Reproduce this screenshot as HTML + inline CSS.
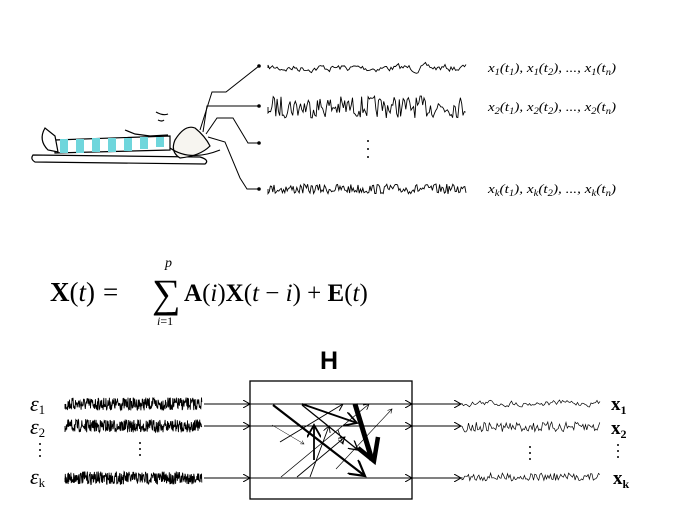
<!DOCTYPE html>
<html><head><meta charset="utf-8"><style>
html,body{margin:0;padding:0;background:#fff;}
svg{display:block;}
.lbl{font-family:"Liberation Serif",serif;font-style:italic;font-size:13px;}
</style></head><body>
<svg id="s" width="673" height="528" viewBox="0 0 673 528" xmlns="http://www.w3.org/2000/svg">
<defs>
<marker id="ah" markerWidth="8" markerHeight="8" refX="7" refY="4" orient="auto" markerUnits="userSpaceOnUse"><path d="M0,0 L7,4 L0,8" fill="none" stroke="#000" stroke-width="1"/></marker>
<marker id="ah2" markerWidth="8" markerHeight="8" refX="7" refY="4" orient="auto"><path d="M0,0 L7,4 L0,8" fill="none" stroke="#000" stroke-width="1"/></marker>
</defs>
<g stroke="#000" stroke-width="1.2" fill="none">
<path d="M33,155 L200,157 Q210,160 205,164 L35,162 Q30,159 33,155Z" fill="#fff"/>
<path d="M55,140 L170,136 L170,150 L55,153 Z" fill="#fff"/>
<path d="M45,128 Q38,140 48,150 L58,152 L55,136 Z" fill="#fff"/>
<path d="M175,140 Q185,124 195,128 Q205,136 210,146 Q200,156 180,158 Q170,152 175,140Z" fill="#f7f5f0"/>
<path d="M170,148 Q190,162 220,150"/>
<path d="M125,130 L135,134 L150,136 L168,135"/>
<path d="M156,112 Q163,116 168,114 M158,120 Q162,122 164,120"/>
</g>
<g fill="#6fd6dc">
<rect x="60" y="139" width="8" height="14"/><rect x="76" y="139" width="8" height="14"/><rect x="92" y="138" width="8" height="14"/><rect x="108" y="138" width="8" height="14"/><rect x="124" y="138" width="8" height="13"/><rect x="140" y="137" width="8" height="12"/><rect x="156" y="137" width="8" height="10"/>
</g>
<g stroke="#000" stroke-width="1" fill="none">
<path d="M200,130 L212,92 L226,92 L259,66"/>
<path d="M203,132 L207,106 L259,106"/>
<path d="M206,134 L217,118 L233,118 L248,143 L259,143"/>
<path d="M208,137 L225,142 L240,178 L247,189 L259,189"/>
</g>
<g fill="#000"><circle cx="259" cy="66" r="1.8"/><circle cx="259" cy="106" r="1.8"/><circle cx="259" cy="143" r="1.8"/><circle cx="259" cy="189" r="1.8"/>
<circle cx="368" cy="141" r="1"/><circle cx="368" cy="149" r="1"/><circle cx="368" cy="157" r="1"/></g>
<g id="waves" stroke="#000" fill="none" stroke-width="0.9"></g>
<text class="lbl" x="488" y="72" textLength="128" lengthAdjust="spacingAndGlyphs">x<tspan font-size="9" dy="3">1</tspan><tspan dy="-3">(t</tspan><tspan font-size="9" dy="3">1</tspan><tspan dy="-3">), x</tspan><tspan font-size="9" dy="3">1</tspan><tspan dy="-3">(t</tspan><tspan font-size="9" dy="3">2</tspan><tspan dy="-3">), ..., x</tspan><tspan font-size="9" dy="3">1</tspan><tspan dy="-3">(t</tspan><tspan font-size="9" dy="3">n</tspan><tspan dy="-3">)</tspan></text>
<text class="lbl" x="488" y="111" textLength="128" lengthAdjust="spacingAndGlyphs">x<tspan font-size="9" dy="3">2</tspan><tspan dy="-3">(t</tspan><tspan font-size="9" dy="3">1</tspan><tspan dy="-3">), x</tspan><tspan font-size="9" dy="3">2</tspan><tspan dy="-3">(t</tspan><tspan font-size="9" dy="3">2</tspan><tspan dy="-3">), ..., x</tspan><tspan font-size="9" dy="3">2</tspan><tspan dy="-3">(t</tspan><tspan font-size="9" dy="3">n</tspan><tspan dy="-3">)</tspan></text>
<text class="lbl" x="488" y="193" textLength="128" lengthAdjust="spacingAndGlyphs">x<tspan font-size="9" dy="3">k</tspan><tspan dy="-3">(t</tspan><tspan font-size="9" dy="3">1</tspan><tspan dy="-3">), x</tspan><tspan font-size="9" dy="3">k</tspan><tspan dy="-3">(t</tspan><tspan font-size="9" dy="3">2</tspan><tspan dy="-3">), ..., x</tspan><tspan font-size="9" dy="3">k</tspan><tspan dy="-3">(t</tspan><tspan font-size="9" dy="3">n</tspan><tspan dy="-3">)</tspan></text>
<g font-family="Liberation Serif,serif" font-size="27">
<text x="50" y="301"><tspan font-weight="bold">X</tspan>(<tspan font-style="italic">t</tspan>)<tspan dx="8">=</tspan></text>
<text x="152" y="307" font-size="40">∑</text>
<text x="165" y="267" font-size="14" font-style="italic">p</text>
<text x="157" y="325" font-size="12" font-style="italic">i<tspan font-style="normal">=1</tspan></text>
<text x="184" y="301" font-size="25"><tspan font-weight="bold">A</tspan>(<tspan font-style="italic">i</tspan>)<tspan font-weight="bold">X</tspan>(<tspan font-style="italic">t</tspan> − <tspan font-style="italic">i</tspan>) + <tspan font-weight="bold">E</tspan>(<tspan font-style="italic">t</tspan>)</text>
</g>
<text x="320" y="369" font-family="Liberation Sans,sans-serif" font-weight="bold" font-size="25">H</text>
<rect x="250" y="381" width="162" height="118" fill="none" stroke="#000" stroke-width="1.3"/>
<g font-family="Liberation Serif,serif" font-size="22" font-style="italic">
<text x="30" y="411">ε<tspan font-size="13" font-style="normal" dy="3">1</tspan></text>
<text x="30" y="434">ε<tspan font-size="13" font-style="normal" dy="3">2</tspan></text>
<text x="30" y="484">ε<tspan font-size="13" font-style="normal" dy="3">k</tspan></text>
</g>
<g font-family="Liberation Serif,serif" font-size="19" font-weight="bold">
<text x="611" y="410">x<tspan font-size="12" dy="4">1</tspan></text>
<text x="611" y="434">x<tspan font-size="12" dy="4">2</tspan></text>
<text x="613" y="484">x<tspan font-size="12" dy="4">k</tspan></text>
</g>
<g fill="#000"><circle cx="40" cy="444" r="1"/><circle cx="40" cy="450" r="1"/><circle cx="40" cy="456" r="1"/>
<circle cx="140" cy="443" r="1"/><circle cx="140" cy="449" r="1"/><circle cx="140" cy="455" r="1"/>
<circle cx="530" cy="447" r="1"/><circle cx="530" cy="453" r="1"/><circle cx="530" cy="459" r="1"/>
<circle cx="618" cy="445" r="1"/><circle cx="618" cy="451" r="1"/><circle cx="618" cy="457" r="1"/></g>
<g stroke="#000" stroke-width="1.1" fill="none" marker-end="url(#ah)">
<path d="M204,404 L250,404"/><path d="M204,426 L250,426"/><path d="M204,478 L250,478"/>
<path d="M250,404 L412,404"/><path d="M250,426 L412,426"/><path d="M250,478 L412,478"/>
<path d="M412,404 L461,404"/><path d="M412,426 L461,426"/><path d="M412,478 L461,478"/>
</g>
<g stroke="#000" fill="none" marker-end="url(#ah2)">
<path d="M273,405 L365,476" stroke-width="2.2"/>
<path d="M302,405 L358,450" stroke-width="1.3"/>
<path d="M302,404 L357,423" stroke-width="1.8"/>
<path d="M280,442 L343,404" stroke-width="1"/>
<path d="M281,477 L369,404" stroke-width="0.8"/>
<path d="M297,477 L345,437" stroke-width="0.9"/>
<path d="M336,469 L392,409" stroke-width="0.6"/>
<path d="M272,425 L304,444" stroke-width="0.5"/>
<path d="M314,460 L314,425" stroke-width="1.8"/>
<path d="M310,477 L329,426" stroke-width="0.9"/>
<path d="M338,430 L343,444" stroke-width="0.8"/>
</g>
<path d="M355,404 L372,460" stroke="#000" stroke-width="5" fill="none"/>
<path d="M358,448 L374,461 L378,437" stroke="#000" stroke-width="4.5" fill="none"/>
</svg>
<script>
(function(){
var seed=7;function r(){seed=(seed*16807)%2147483647;return seed/2147483647-0.5;}
var NS="http://www.w3.org/2000/svg";
var g=document.getElementById('waves');
function wave(par,x0,x1,y,amp,step,w,smooth){
 var d="M"+x0+","+y,v=0;
 for(var x=x0;x<=x1;x+=step){v=smooth?v*0.6+r()*amp:r()*amp*2;d+=" L"+x.toFixed(1)+","+(y+v).toFixed(1);}
 var p=document.createElementNS(NS,"path");p.setAttribute("d",d);p.setAttribute("stroke-width",w);par.appendChild(p);
}
wave(g,268,466,68,6,1.5,0.9,true);
wave(g,268,466,107,11,1.3,0.9,false);
wave(g,268,466,189,5,1.2,0.9,false);
wave(g,65,202,404,6.5,0.35,0.9,false);
wave(g,65,202,426,6.5,0.35,0.9,false);
wave(g,65,202,478,6.5,0.35,0.9,false);
wave(g,462,600,403,5,1.5,0.7,true);
wave(g,462,600,427,5,1.3,0.7,false);
wave(g,462,600,477,4,1.3,0.7,false);
})();
</script>
</body></html>
